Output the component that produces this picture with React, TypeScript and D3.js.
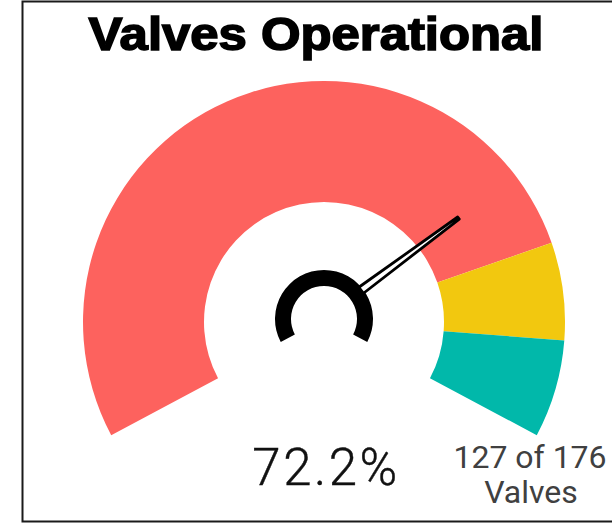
import React from "react";
import * as d3 from "d3";

// ---- data ----
const bandLabels = ["Low", "Mid", "High"];
const bandStarts = [0, 0.8, 0.9];
const bandEnds = [0.8, 0.9, 1.0];
const bandColors = ["#FD625E", "#F2C80F", "#01B8AA"];
const operational = 127;
const totalValves = 176;
const titleText = "Valves Operational";

const W = 612;
const H = 524;

export default function App() {
  const cx = 324;
  const cy = 322;
  const outerR = 241;
  const innerR = 120;
  const hubCy = 319;
  const hubOuter = 49;
  const hubInner = 33;
  const maxA = (118 * Math.PI) / 180;

  const angle = d3.scaleLinear().domain([0, 1]).range([-maxA, maxA]);
  const bandArc = d3.arc<any>().innerRadius(innerR).outerRadius(outerR);
  const hubArc = d3.arc<any>().innerRadius(hubInner).outerRadius(hubOuter);

  const frac = operational / totalValves;
  const pct = d3.format(".1%")(frac);
  const a = angle(frac);
  const sx = Math.sin(a);
  const sy = -Math.cos(a);
  const px = Math.cos(a);
  const py = Math.sin(a);
  const baseR = hubOuter - 2;
  const tipR = 170;
  const bw = 3.8;
  const tw = 1.3;
  const needle = [
    [cx + sx * baseR + px * bw, hubCy + sy * baseR + py * bw],
    [cx + sx * tipR + px * tw, cy + sy * tipR + py * tw],
    [cx + sx * tipR - px * tw, cy + sy * tipR - py * tw],
    [cx + sx * baseR - px * bw, hubCy + sy * baseR - py * bw],
  ];

  return (
    <div style={{ position: "fixed", left: 0, top: 0 }}>
      <svg width={W} height={H} style={{ display: "block", background: "#fff" }}>
        <path d="M 640 1.5 H 22.5 V 521.5 H 640" fill="none" stroke="#1a1a1a" strokeWidth={2} />
        <text
          x={cx - 8}
          y={50}
          textAnchor="middle"
          fontFamily="'Liberation Sans', Arial, sans-serif"
          fontWeight={700}
          fontSize={46}
          textLength={455}
          lengthAdjust="spacingAndGlyphs"
          fill="#000"
          stroke="#000"
          strokeWidth={1.6}
        >
          {titleText}
        </text>
        <g transform={`translate(${cx},${cy})`}>
          {bandLabels.map((lab, i) => (
            <path
              key={lab}
              d={bandArc({ startAngle: angle(bandStarts[i]), endAngle: angle(bandEnds[i]) }) as string}
              fill={bandColors[i]}
            />
          ))}
        </g>
        <g transform={`translate(${cx},${hubCy})`}>
          <path d={hubArc({ startAngle: -maxA, endAngle: maxA }) as string} fill="#000" />
        </g>
        <polygon
          points={needle.map((p) => p.join(",")).join(" ")}
          fill="#fff"
          stroke="#000"
          strokeWidth={2.8}
          strokeLinejoin="round"
        />
        <text
          x={cx + 2}
          y={485}
          textAnchor="middle"
          fontFamily="Roboto, sans-serif"
          fontWeight={300}
          fontSize={51}
          letterSpacing={2.5}
          fill="#111"
          stroke="#111"
          strokeWidth={0.4}
        >
          {pct}
        </text>
        <text
          x={530}
          y={468}
          textAnchor="middle"
          fontFamily="Roboto, sans-serif"
          fontWeight={400}
          fontSize={32}
          fill="#404040"
        >
          {`${operational} of ${totalValves}`}
        </text>
        <text
          x={531}
          y={503}
          textAnchor="middle"
          fontFamily="Roboto, sans-serif"
          fontWeight={400}
          fontSize={32}
          fill="#404040"
        >
          Valves
        </text>
      </svg>
    </div>
  );
}
